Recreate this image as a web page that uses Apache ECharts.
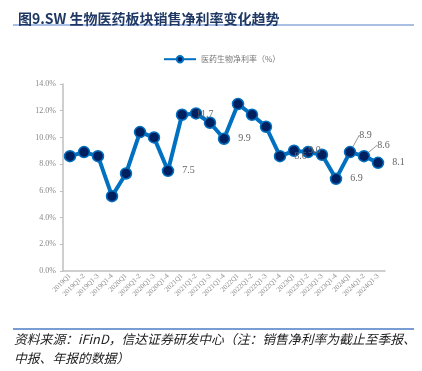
<!DOCTYPE html>
<html><head><meta charset="utf-8">
<script src="https://cdn.jsdelivr.net/npm/echarts@6/dist/echarts.min.js"></script>
<style>html,body{margin:0;padding:0;background:#fff;}#c{width:422px;height:371px;}</style>
</head><body><div id="c"></div>
<script>
const categories = ['2019Q1','2019Q1-2','2019Q1-3','2019Q1-4','2020Q1','2020Q1-2','2020Q1-3','2020Q1-4','2021Q1','2021Q1-2','2021Q1-3','2021Q1-4','2022Q1','2022Q1-2','2022Q1-3','2022Q1-4','2023Q1','2023Q1-2','2023Q1-3','2023Q1-4','2024Q1','2024Q1-2','2024Q1-3'];
const netMargin = [8.6, 8.9, 8.6, 5.6, 7.3, 10.4, 10.0, 7.5, 11.7, 11.8, 11.1, 9.9, 12.5, 11.7, 10.8, 8.6, 9.0, 8.9, 8.7, 6.9, 8.9, 8.6, 8.1];
const yTicks = [0, 2, 4, 6, 8, 10, 12, 14];
const labelledIdx = [7, 8, 11, 15, 16, 19, 20, 21, 22];
const seriesName = '医药生物净利率（%）';

const labelMoves = {20: {dx: -5, dy: -17}, 21: {dx: -1, dy: -11}};

const chart = echarts.init(document.getElementById('c'), null, {renderer: 'canvas'});
const data = netMargin.map((v, i) => ({
  value: v,
  label: {show: labelledIdx.includes(i)},
  labelLine: {show: i in labelMoves}
}));
chart.setOption({
  animation: false,
  backgroundColor: '#fff',
  title: {
    text: '图9.SW 生物医药板块销售净利率变化趋势',
    left: 13, top: 7,
    textStyle: {fontSize: 14, fontWeight: 'bold', color: '#1f3864', fontFamily: 'Noto Sans CJK SC'}
  },
  graphic: [
    {type: 'line', shape: {x1: 13, y1: 25, x2: 414, y2: 25}, style: {stroke: '#8eaadb', lineWidth: 1.5}},
    {type: 'line', shape: {x1: 13, y1: 329, x2: 414, y2: 329}, style: {stroke: '#4a7cc4', lineWidth: 1.5}},
    {type: 'text', left: 14, top: 333, style: {text: '资料来源：iFinD，信达证券研发中心（注：销售净利率为截止至季报、', font: 'italic 12.8px "Noto Sans CJK SC"', fill: '#222'}},
    {type: 'text', left: 14, top: 352, style: {text: '中报、年报的数据）', font: 'italic 12.8px "Noto Sans CJK SC"', fill: '#222'}}
  ],
  legend: {
    left: 158, top: 50,
    itemWidth: 32, itemHeight: 8, itemGap: 5,
    textStyle: {fontSize: 8, color: '#777', fontFamily: 'Noto Sans CJK SC'},
    data: [seriesName]
  },
  grid: {left: 63, right: 37, top: 84, bottom: 100},
  xAxis: {
    type: 'category',
    data: categories,
    boundaryGap: true,
    axisLine: {lineStyle: {color: '#bfbfbf', width: 1.5}},
    axisTick: {inside: true, length: 3, lineStyle: {color: '#bfbfbf'}},
    axisLabel: {interval: 0, rotate: 45, fontSize: 7, color: '#888', fontFamily: 'Liberation Serif', margin: 4}
  },
  yAxis: {
    type: 'value', min: yTicks[0], max: yTicks[yTicks.length - 1], interval: 2,
    axisLine: {show: true, lineStyle: {color: '#bfbfbf', width: 1.5}},
    axisTick: {show: true, length: 3, lineStyle: {color: '#bfbfbf'}},
    splitLine: {show: false},
    axisLabel: {formatter: v => v.toFixed(1) + '%', fontSize: 8, color: '#888', fontFamily: 'Liberation Serif', margin: 7}
  },
  series: [{
    name: seriesName,
    type: 'line',
    data: data,
    lineStyle: {color: '#0070c0', width: 4},
    itemStyle: {color: '#002060', borderColor: '#0070c0', borderWidth: 1.5},
    symbol: 'circle', symbolSize: 11,
    label: {position: 'right', distance: 8, fontSize: 10, color: '#666', fontFamily: 'Liberation Serif', formatter: p => p.value.toFixed(1)},
    labelLine: {lineStyle: {color: '#999', width: 1}},
    labelLayout: p => labelMoves[p.dataIndex] || {}
  }]
});
</script></body></html>
